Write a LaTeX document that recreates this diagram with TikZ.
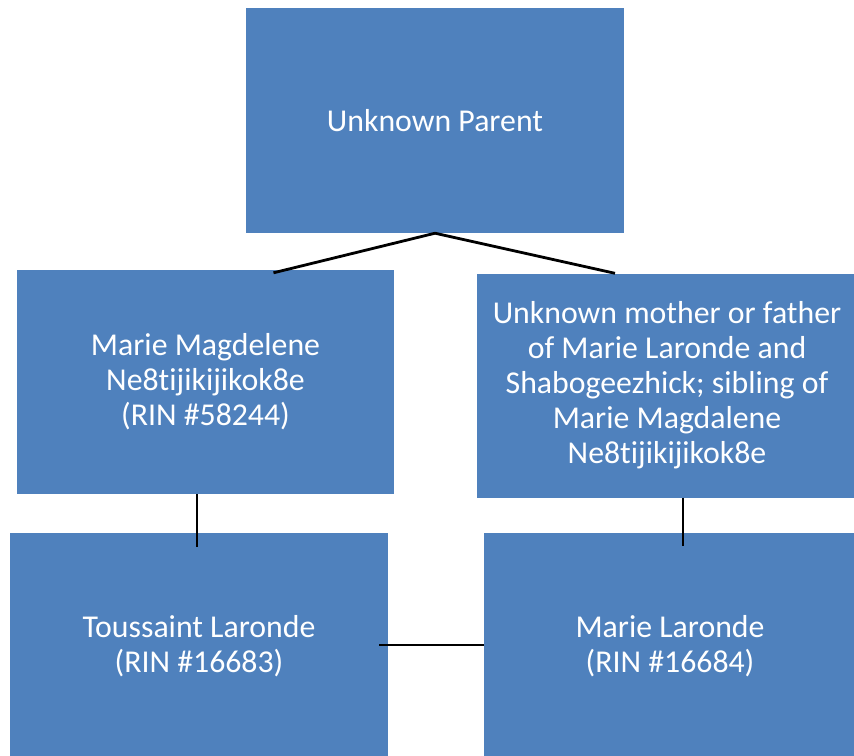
\documentclass[tikz,border=0pt]{standalone}
\usepackage{fontspec}
\setmainfont[Ligatures=NoCommon]{Carlito}
\definecolor{boxblue}{HTML}{4F81BD}
\begin{document}
\begin{tikzpicture}[x=1pt,y=-1pt,
  person/.style={rectangle, fill=boxblue, text=white, inner sep=0pt, align=center,
    font=\fontsize{31.8}{35}\selectfont},
  link/.style={draw=black, line width=2.8pt}]
\useasboundingbox (0,0) rectangle (854,755);
\clip (0,0) rectangle (854,755);
\node[person, minimum width=378pt, minimum height=225pt] (top) at (435,120.5) {Unknown Parent};
\node[person, minimum width=377pt, minimum height=224pt] (mm) at (205.5,382) {Marie Magdelene\\Ne8tijikijikok8e\\(RIN \#58244)};
\node[person, minimum width=380pt, minimum height=224pt] (um) at (667,385.5) {Unknown mother or father\\of Marie Laronde and\\Shabogeezhick; sibling of\\Marie Magdalene\\Ne8tijikijikok8e};
\node[person, minimum width=378pt, minimum height=227pt] (tl) at (199,646.5) {Toussaint Laronde\\(RIN \#16683)};
\node[person, minimum width=372pt, minimum height=227pt] (ml) at (670,646.5) {Marie Laronde\\(RIN \#16684)};
\draw[link] (top.south) -- ([xshift=68pt,yshift=-3pt]mm.north);
\draw[link] (top.south) -- ([xshift=-52pt]um.north);
\draw[link] ([xshift=-8.5pt]mm.south) -- ([xshift=-2pt,yshift=-14pt]tl.north);
\draw[link] ([xshift=16pt]um.south) -- ([xshift=13pt,yshift=-13.5pt]ml.north);
\draw[link] ([xshift=-9pt,yshift=1.5pt]tl.east) -- ([yshift=1.5pt]ml.west);
\end{tikzpicture}
\end{document}
